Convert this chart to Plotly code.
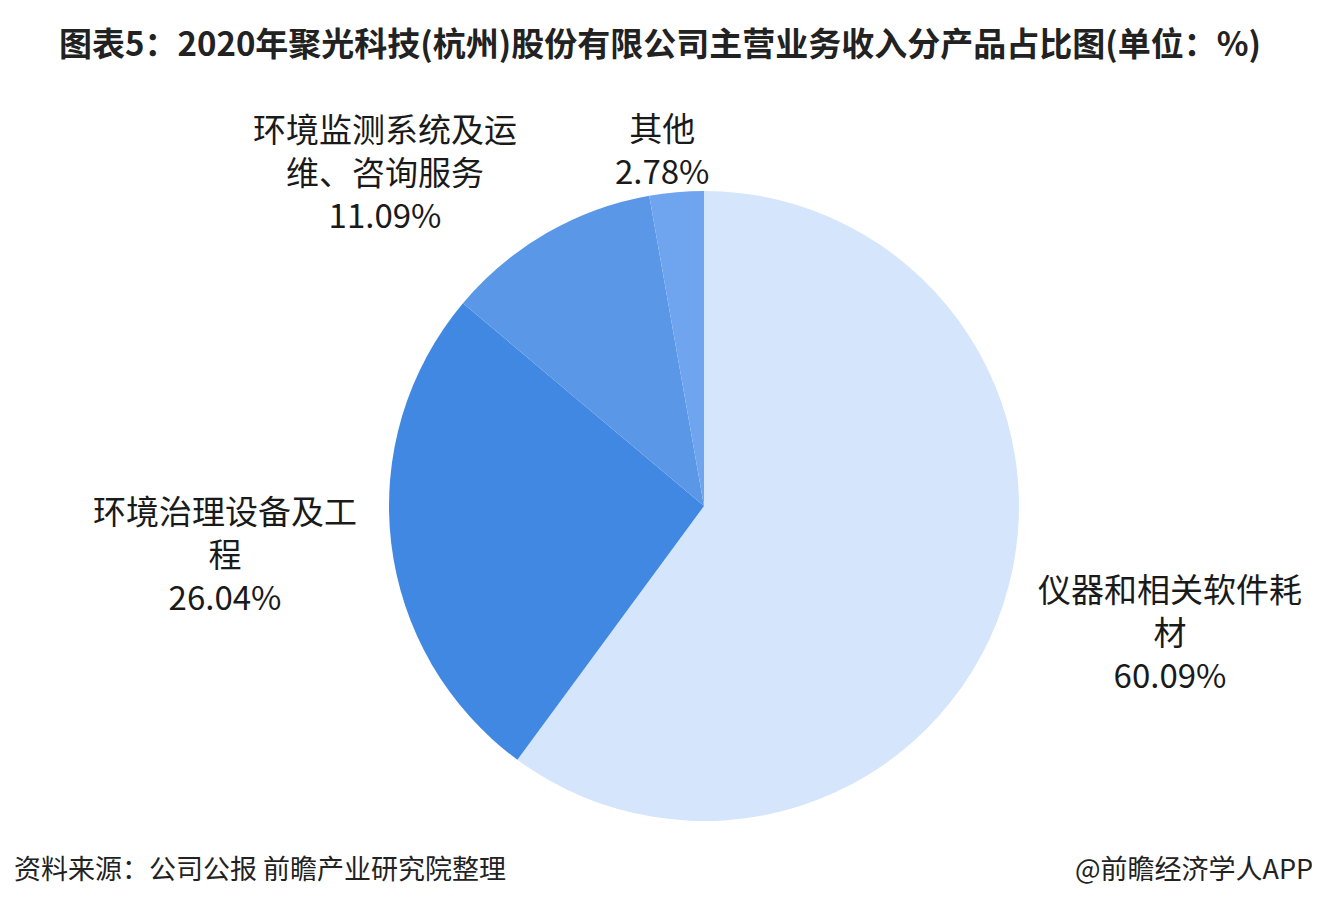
import plotly.graph_objects as go

# Data
categories = ["仪器和相关软件耗<br>材", "环境治理设备及工<br>程", "环境监测系统及运<br>维、咨询服务", "其他"]
values = [60.09, 26.04, 11.09, 2.78]
colors = ["#d5e5fb", "#4088e1", "#5a97e7", "#6ea5ee"]

title_text = "图表5：2020年聚光科技(杭州)股份有限公司主营业务收入分产品占比图(单位：%)"
source_text = "资料来源：公司公报 前瞻产业研究院整理"
brand_text = "@前瞻经济学人APP"

# page has an 8px body margin; work in reference pixel coords and offset
OFF = 8
W, H = 1320 - OFF, 910 - OFF


def px(x):
    return (x - OFF) / W


def py(y):
    return 1 - (y - OFF) / H


cx, cy, r = 704, 506, 315

fig = go.Figure()
fig.add_trace(go.Pie(
    labels=categories,
    values=values,
    sort=False,
    direction="clockwise",
    rotation=0,
    marker=dict(colors=colors, line=dict(width=0)),
    textinfo="none",
    hoverinfo="label+percent",
    showlegend=False,
    domain=dict(x=[px(cx - r), px(cx + r)], y=[py(cy + r), py(cy - r)]),
))

# label centre positions (reference pixel coords) for each category
label_pos = [(1170, 631), (225, 553), (385, 171), (662, 149)]
label_font = dict(family="Noto Sans CJK SC", size=33, color="#1a1a1a")
for cat, val, (x, y) in zip(categories, values, label_pos):
    fig.add_annotation(
        x=px(x), y=py(y), xref="paper", yref="paper",
        text=f"{cat}<br>{val:.2f}%", showarrow=False,
        font=label_font, align="center", xanchor="center", yanchor="middle",
    )

fig.add_annotation(
    x=px(660), y=py(42), xref="paper", yref="paper",
    text=f"<b>{title_text}</b>", showarrow=False,
    font=dict(family="Noto Sans CJK SC", size=33, color="#222222"),
    xanchor="center", yanchor="middle",
)
fig.add_annotation(
    x=px(12), y=py(867), xref="paper", yref="paper",
    text=source_text, showarrow=False,
    font=dict(family="Noto Sans CJK SC", size=27, color="#222222"),
    xanchor="left", yanchor="middle",
)
fig.add_annotation(
    x=px(1315), y=py(867), xref="paper", yref="paper",
    text=brand_text, showarrow=False,
    font=dict(family="Noto Sans CJK SC", size=27, color="#222222"),
    xanchor="right", yanchor="middle",
)

fig.update_layout(
    width=W, height=H,
    margin=dict(l=0, r=0, t=0, b=0),
    paper_bgcolor="#ffffff",
    plot_bgcolor="#ffffff",
)

fig.write_html("out.html")
